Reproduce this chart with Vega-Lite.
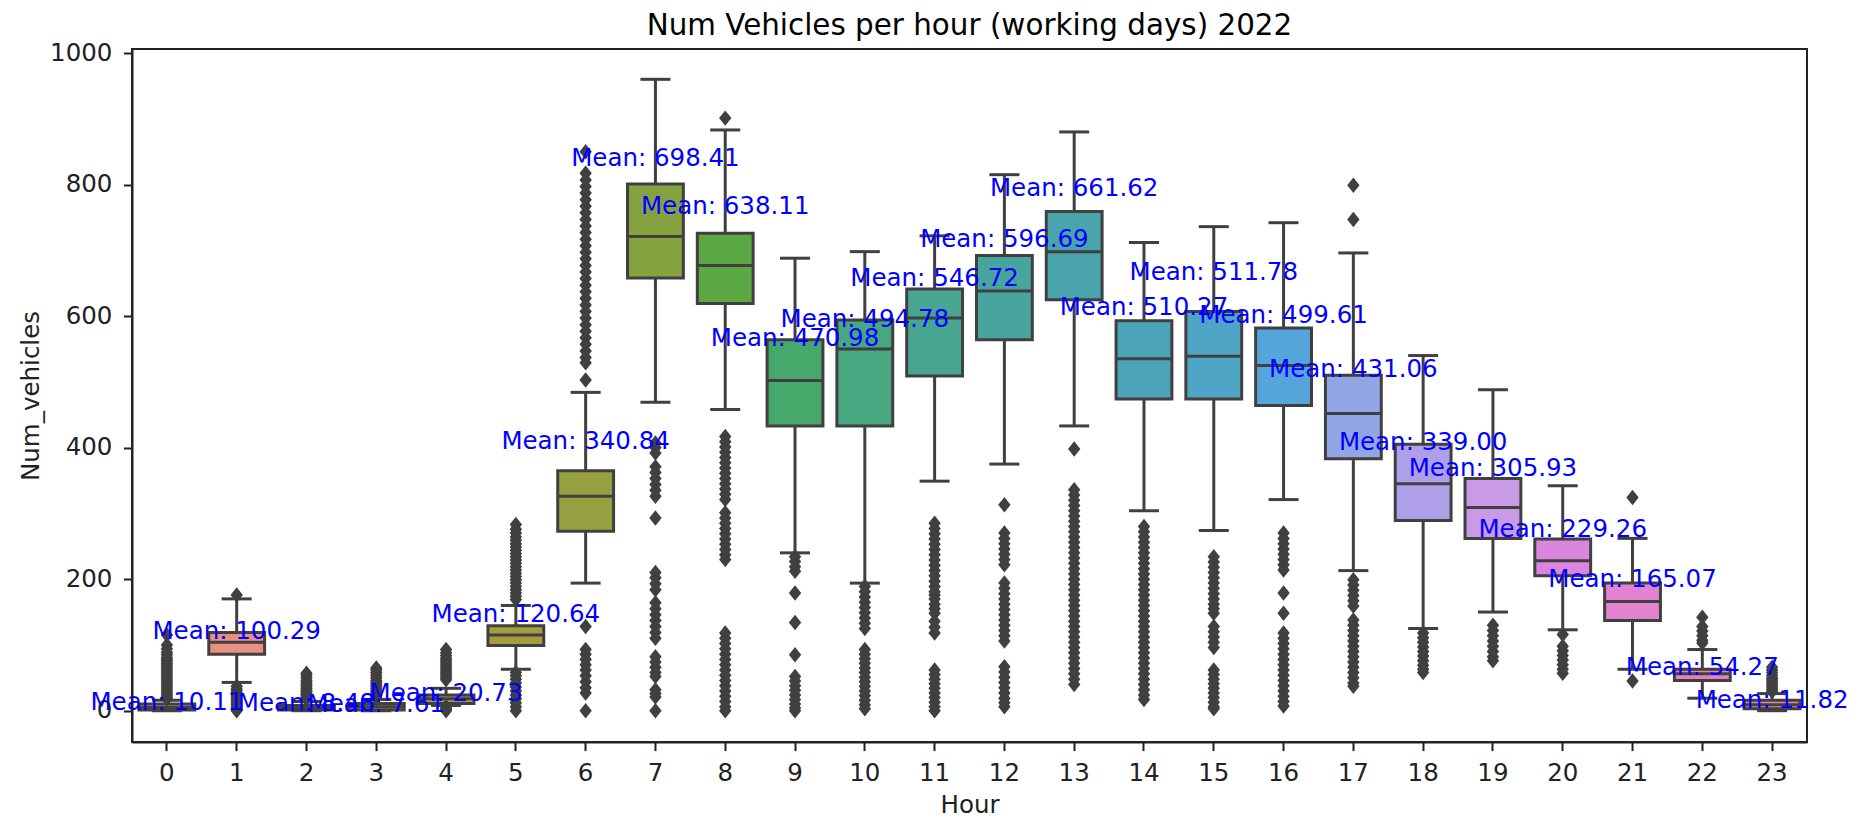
{
  "$schema": "https://vega.github.io/schema/vega-lite/v6.json",
  "width": 1675,
  "height": 693,
  "autosize": {"type": "none"},
  "padding": {"left": 132, "top": 49, "right": 61, "bottom": 77},
  "background": "white",
  "title": {"text": "Num Vehicles per hour (working days) 2022", "fontSize": 29.4, "font": "DejaVu Sans", "fontWeight": "normal", "color": "#000000", "anchor": "middle", "offset": -1.5},
  "config": {
    "view": {"stroke": "#222222", "strokeWidth": 2},
    "axis": {"domainColor": "#222222", "domainWidth": 2, "tickColor": "#222222", "tickWidth": 2, "tickSize": 8.6, "labelFontSize": 24.5, "labelFont": "DejaVu Sans", "labelColor": "#222222", "labelPadding": 8.6, "titleFontSize": 24.5, "titleFont": "DejaVu Sans", "titleFontWeight": "normal", "titleColor": "#222222", "grid": false}
  },
  "datasets": {
    "boxes": [
      {"hour": 0, "lower": 0, "q1": 1, "median": 5, "q3": 10, "upper": 16, "mean": 10.11},
      {"hour": 1, "lower": 43, "q1": 86, "median": 104, "q3": 119, "upper": 170, "mean": 100.29},
      {"hour": 2, "lower": 0, "q1": 1, "median": 4, "q3": 8, "upper": 14, "mean": 8.48},
      {"hour": 3, "lower": 0, "q1": 1, "median": 6, "q3": 11, "upper": 17, "mean": 7.61},
      {"hour": 4, "lower": 8, "q1": 11, "median": 18, "q3": 24, "upper": 34, "mean": 20.73},
      {"hour": 5, "lower": 63, "q1": 99, "median": 115, "q3": 129, "upper": 160, "mean": 120.64},
      {"hour": 6, "lower": 194, "q1": 273, "median": 326, "q3": 365, "upper": 484, "mean": 340.84},
      {"hour": 7, "lower": 469, "q1": 658, "median": 721, "q3": 801, "upper": 960, "mean": 698.41},
      {"hour": 8, "lower": 458, "q1": 619, "median": 677, "q3": 726, "upper": 883, "mean": 638.11},
      {"hour": 9, "lower": 240, "q1": 433, "median": 502, "q3": 564, "upper": 688, "mean": 470.98},
      {"hour": 10, "lower": 194, "q1": 433, "median": 550, "q3": 594, "upper": 698, "mean": 494.78},
      {"hour": 11, "lower": 349, "q1": 509, "median": 597, "q3": 641, "upper": 722, "mean": 546.72},
      {"hour": 12, "lower": 375, "q1": 564, "median": 638, "q3": 692, "upper": 815, "mean": 596.69},
      {"hour": 13, "lower": 433, "q1": 625, "median": 698, "q3": 759, "upper": 880, "mean": 661.62},
      {"hour": 14, "lower": 304, "q1": 474, "median": 535, "q3": 593, "upper": 712, "mean": 510.27},
      {"hour": 15, "lower": 274, "q1": 474, "median": 539, "q3": 607, "upper": 736, "mean": 511.78},
      {"hour": 16, "lower": 321, "q1": 464, "median": 525, "q3": 582, "upper": 742, "mean": 499.61},
      {"hour": 17, "lower": 213, "q1": 383, "median": 452, "q3": 510, "upper": 696, "mean": 431.06},
      {"hour": 18, "lower": 125, "q1": 289, "median": 345, "q3": 405, "upper": 540, "mean": 339.00},
      {"hour": 19, "lower": 150, "q1": 262, "median": 309, "q3": 353, "upper": 488, "mean": 305.93},
      {"hour": 20, "lower": 123, "q1": 205, "median": 228, "q3": 261, "upper": 342, "mean": 229.26},
      {"hour": 21, "lower": 63, "q1": 137, "median": 166, "q3": 194, "upper": 262, "mean": 165.07},
      {"hour": 22, "lower": 19, "q1": 46, "median": 56, "q3": 63, "upper": 93, "mean": 54.27},
      {"hour": 23, "lower": 0, "q1": 3, "median": 9, "q3": 16, "upper": 26, "mean": 11.82}
    ],
    "outliers": [
      {"hour":0,"v":18},{"hour":0,"v":21},{"hour":0,"v":24},{"hour":0,"v":27},{"hour":0,"v":30},{"hour":0,"v":33},{"hour":0,"v":36},{"hour":0,"v":39},{"hour":0,"v":42},{"hour":0,"v":45},{"hour":0,"v":48},{"hour":0,"v":51},{"hour":0,"v":54},{"hour":0,"v":57},{"hour":0,"v":60},{"hour":0,"v":63},{"hour":0,"v":66},{"hour":0,"v":69},{"hour":0,"v":72},{"hour":0,"v":75},{"hour":0,"v":78},{"hour":0,"v":81},{"hour":0,"v":85},{"hour":0,"v":89},{"hour":0,"v":94},{"hour":0,"v":100},{"hour":0,"v":115},
      {"hour":1,"v":176},{"hour":1,"v":37},{"hour":1,"v":33},{"hour":1,"v":30},{"hour":1,"v":27},{"hour":1,"v":24},{"hour":1,"v":21},{"hour":1,"v":18},{"hour":1,"v":15},{"hour":1,"v":12},{"hour":1,"v":9},{"hour":1,"v":6},{"hour":1,"v":3},{"hour":1,"v":0},
      {"hour":2,"v":17},{"hour":2,"v":19},{"hour":2,"v":21},{"hour":2,"v":23},{"hour":2,"v":25},{"hour":2,"v":27},{"hour":2,"v":29},{"hour":2,"v":31},{"hour":2,"v":34},{"hour":2,"v":37},{"hour":2,"v":40},{"hour":2,"v":43},{"hour":2,"v":46},{"hour":2,"v":50},{"hour":2,"v":54},{"hour":2,"v":57},
      {"hour":3,"v":19},{"hour":3,"v":21},{"hour":3,"v":23},{"hour":3,"v":25},{"hour":3,"v":27},{"hour":3,"v":29},{"hour":3,"v":31},{"hour":3,"v":34},{"hour":3,"v":37},{"hour":3,"v":40},{"hour":3,"v":43},{"hour":3,"v":46},{"hour":3,"v":50},{"hour":3,"v":54},{"hour":3,"v":58},{"hour":3,"v":62},{"hour":3,"v":65},
      {"hour":4,"v":47},{"hour":4,"v":50},{"hour":4,"v":53},{"hour":4,"v":56},{"hour":4,"v":59},{"hour":4,"v":62},{"hour":4,"v":65},{"hour":4,"v":68},{"hour":4,"v":71},{"hour":4,"v":74},{"hour":4,"v":77},{"hour":4,"v":80},{"hour":4,"v":84},{"hour":4,"v":88},{"hour":4,"v":93},{"hour":4,"v":0},{"hour":4,"v":2},{"hour":4,"v":4},{"hour":4,"v":6},
      {"hour":5,"v":169},{"hour":5,"v":174},{"hour":5,"v":179},{"hour":5,"v":184},{"hour":5,"v":189},{"hour":5,"v":194},{"hour":5,"v":199},{"hour":5,"v":204},{"hour":5,"v":209},{"hour":5,"v":214},{"hour":5,"v":219},{"hour":5,"v":224},{"hour":5,"v":229},{"hour":5,"v":234},{"hour":5,"v":239},{"hour":5,"v":244},{"hour":5,"v":249},{"hour":5,"v":254},{"hour":5,"v":259},{"hour":5,"v":264},{"hour":5,"v":270},{"hour":5,"v":276},{"hour":5,"v":283},{"hour":5,"v":0},{"hour":5,"v":6},{"hour":5,"v":12},{"hour":5,"v":18},{"hour":5,"v":24},{"hour":5,"v":30},{"hour":5,"v":36},{"hour":5,"v":42},{"hour":5,"v":48},{"hour":5,"v":53},{"hour":5,"v":58},
      {"hour":6,"v":850},{"hour":6,"v":817},{"hour":6,"v":807},{"hour":6,"v":797},{"hour":6,"v":787},{"hour":6,"v":777},{"hour":6,"v":767},{"hour":6,"v":757},{"hour":6,"v":747},{"hour":6,"v":737},{"hour":6,"v":727},{"hour":6,"v":717},{"hour":6,"v":707},{"hour":6,"v":697},{"hour":6,"v":687},{"hour":6,"v":677},{"hour":6,"v":667},{"hour":6,"v":657},{"hour":6,"v":647},{"hour":6,"v":637},{"hour":6,"v":627},{"hour":6,"v":617},{"hour":6,"v":607},{"hour":6,"v":597},{"hour":6,"v":587},{"hour":6,"v":577},{"hour":6,"v":567},{"hour":6,"v":557},{"hour":6,"v":547},{"hour":6,"v":537},{"hour":6,"v":529},{"hour":6,"v":503},{"hour":6,"v":128},{"hour":6,"v":93},{"hour":6,"v":86},{"hour":6,"v":78},{"hour":6,"v":70},{"hour":6,"v":62},{"hour":6,"v":53},{"hour":6,"v":44},{"hour":6,"v":35},{"hour":6,"v":27},{"hour":6,"v":0},
      {"hour":7,"v":407},{"hour":7,"v":400},{"hour":7,"v":392},{"hour":7,"v":371},{"hour":7,"v":362},{"hour":7,"v":353},{"hour":7,"v":344},{"hour":7,"v":335},{"hour":7,"v":326},{"hour":7,"v":293},{"hour":7,"v":210},{"hour":7,"v":202},{"hour":7,"v":193},{"hour":7,"v":184},{"hour":7,"v":164},{"hour":7,"v":155},{"hour":7,"v":146},{"hour":7,"v":137},{"hour":7,"v":128},{"hour":7,"v":119},{"hour":7,"v":110},{"hour":7,"v":82},{"hour":7,"v":74},{"hour":7,"v":66},{"hour":7,"v":58},{"hour":7,"v":52},{"hour":7,"v":32},{"hour":7,"v":26},{"hour":7,"v":21},{"hour":7,"v":0},
      {"hour":8,"v":901},{"hour":8,"v":417},{"hour":8,"v":409},{"hour":8,"v":401},{"hour":8,"v":393},{"hour":8,"v":385},{"hour":8,"v":377},{"hour":8,"v":369},{"hour":8,"v":361},{"hour":8,"v":353},{"hour":8,"v":345},{"hour":8,"v":337},{"hour":8,"v":329},{"hour":8,"v":321},{"hour":8,"v":301},{"hour":8,"v":293},{"hour":8,"v":285},{"hour":8,"v":277},{"hour":8,"v":269},{"hour":8,"v":261},{"hour":8,"v":253},{"hour":8,"v":245},{"hour":8,"v":237},{"hour":8,"v":230},{"hour":8,"v":118},{"hour":8,"v":110},{"hour":8,"v":102},{"hour":8,"v":94},{"hour":8,"v":86},{"hour":8,"v":78},{"hour":8,"v":70},{"hour":8,"v":62},{"hour":8,"v":54},{"hour":8,"v":46},{"hour":8,"v":38},{"hour":8,"v":30},{"hour":8,"v":22},{"hour":8,"v":14},{"hour":8,"v":6},{"hour":8,"v":0},
      {"hour":9,"v":234},{"hour":9,"v":227},{"hour":9,"v":219},{"hour":9,"v":212},{"hour":9,"v":179},{"hour":9,"v":134},{"hour":9,"v":85},{"hour":9,"v":52},{"hour":9,"v":45},{"hour":9,"v":38},{"hour":9,"v":31},{"hour":9,"v":24},{"hour":9,"v":17},{"hour":9,"v":10},{"hour":9,"v":4},{"hour":9,"v":0},
      {"hour":10,"v":189},{"hour":10,"v":181},{"hour":10,"v":173},{"hour":10,"v":165},{"hour":10,"v":157},{"hour":10,"v":149},{"hour":10,"v":141},{"hour":10,"v":133},{"hour":10,"v":125},{"hour":10,"v":93},{"hour":10,"v":86},{"hour":10,"v":79},{"hour":10,"v":72},{"hour":10,"v":65},{"hour":10,"v":58},{"hour":10,"v":51},{"hour":10,"v":44},{"hour":10,"v":37},{"hour":10,"v":30},{"hour":10,"v":23},{"hour":10,"v":16},{"hour":10,"v":9},{"hour":10,"v":3},
      {"hour":11,"v":285},{"hour":11,"v":277},{"hour":11,"v":269},{"hour":11,"v":261},{"hour":11,"v":253},{"hour":11,"v":245},{"hour":11,"v":237},{"hour":11,"v":229},{"hour":11,"v":221},{"hour":11,"v":213},{"hour":11,"v":205},{"hour":11,"v":197},{"hour":11,"v":189},{"hour":11,"v":181},{"hour":11,"v":176},{"hour":11,"v":170},{"hour":11,"v":162},{"hour":11,"v":155},{"hour":11,"v":148},{"hour":11,"v":136},{"hour":11,"v":127},{"hour":11,"v":118},{"hour":11,"v":62},{"hour":11,"v":55},{"hour":11,"v":48},{"hour":11,"v":41},{"hour":11,"v":34},{"hour":11,"v":27},{"hour":11,"v":20},{"hour":11,"v":13},{"hour":11,"v":6},{"hour":11,"v":0},
      {"hour":12,"v":313},{"hour":12,"v":270},{"hour":12,"v":262},{"hour":12,"v":254},{"hour":12,"v":246},{"hour":12,"v":238},{"hour":12,"v":230},{"hour":12,"v":222},{"hour":12,"v":194},{"hour":12,"v":186},{"hour":12,"v":178},{"hour":12,"v":170},{"hour":12,"v":162},{"hour":12,"v":154},{"hour":12,"v":146},{"hour":12,"v":138},{"hour":12,"v":130},{"hour":12,"v":122},{"hour":12,"v":114},{"hour":12,"v":106},{"hour":12,"v":67},{"hour":12,"v":59},{"hour":12,"v":51},{"hour":12,"v":43},{"hour":12,"v":35},{"hour":12,"v":27},{"hour":12,"v":19},{"hour":12,"v":12},{"hour":12,"v":6},
      {"hour":13,"v":398},{"hour":13,"v":336},{"hour":13,"v":328},{"hour":13,"v":320},{"hour":13,"v":312},{"hour":13,"v":304},{"hour":13,"v":296},{"hour":13,"v":288},{"hour":13,"v":280},{"hour":13,"v":272},{"hour":13,"v":264},{"hour":13,"v":256},{"hour":13,"v":248},{"hour":13,"v":240},{"hour":13,"v":232},{"hour":13,"v":224},{"hour":13,"v":216},{"hour":13,"v":208},{"hour":13,"v":200},{"hour":13,"v":192},{"hour":13,"v":184},{"hour":13,"v":176},{"hour":13,"v":168},{"hour":13,"v":160},{"hour":13,"v":152},{"hour":13,"v":144},{"hour":13,"v":136},{"hour":13,"v":128},{"hour":13,"v":120},{"hour":13,"v":112},{"hour":13,"v":104},{"hour":13,"v":96},{"hour":13,"v":88},{"hour":13,"v":80},{"hour":13,"v":72},{"hour":13,"v":64},{"hour":13,"v":56},{"hour":13,"v":48},{"hour":13,"v":40},
      {"hour":14,"v":280},{"hour":14,"v":272},{"hour":14,"v":264},{"hour":14,"v":256},{"hour":14,"v":248},{"hour":14,"v":240},{"hour":14,"v":232},{"hour":14,"v":224},{"hour":14,"v":216},{"hour":14,"v":208},{"hour":14,"v":200},{"hour":14,"v":192},{"hour":14,"v":184},{"hour":14,"v":176},{"hour":14,"v":168},{"hour":14,"v":160},{"hour":14,"v":152},{"hour":14,"v":144},{"hour":14,"v":136},{"hour":14,"v":128},{"hour":14,"v":120},{"hour":14,"v":112},{"hour":14,"v":104},{"hour":14,"v":96},{"hour":14,"v":88},{"hour":14,"v":80},{"hour":14,"v":72},{"hour":14,"v":64},{"hour":14,"v":56},{"hour":14,"v":48},{"hour":14,"v":40},{"hour":14,"v":32},{"hour":14,"v":24},{"hour":14,"v":17},
      {"hour":15,"v":234},{"hour":15,"v":226},{"hour":15,"v":218},{"hour":15,"v":210},{"hour":15,"v":202},{"hour":15,"v":194},{"hour":15,"v":186},{"hour":15,"v":178},{"hour":15,"v":170},{"hour":15,"v":162},{"hour":15,"v":155},{"hour":15,"v":148},{"hour":15,"v":128},{"hour":15,"v":120},{"hour":15,"v":112},{"hour":15,"v":104},{"hour":15,"v":96},{"hour":15,"v":62},{"hour":15,"v":55},{"hour":15,"v":48},{"hour":15,"v":41},{"hour":15,"v":34},{"hour":15,"v":27},{"hour":15,"v":20},{"hour":15,"v":13},{"hour":15,"v":6},{"hour":15,"v":3},
      {"hour":16,"v":270},{"hour":16,"v":262},{"hour":16,"v":254},{"hour":16,"v":246},{"hour":16,"v":238},{"hour":16,"v":230},{"hour":16,"v":222},{"hour":16,"v":214},{"hour":16,"v":179},{"hour":16,"v":148},{"hour":16,"v":118},{"hour":16,"v":110},{"hour":16,"v":102},{"hour":16,"v":94},{"hour":16,"v":86},{"hour":16,"v":78},{"hour":16,"v":70},{"hour":16,"v":62},{"hour":16,"v":54},{"hour":16,"v":46},{"hour":16,"v":38},{"hour":16,"v":30},{"hour":16,"v":22},{"hour":16,"v":14},{"hour":16,"v":7},
      {"hour":17,"v":799},{"hour":17,"v":747},{"hour":17,"v":199},{"hour":17,"v":191},{"hour":17,"v":183},{"hour":17,"v":175},{"hour":17,"v":167},{"hour":17,"v":159},{"hour":17,"v":138},{"hour":17,"v":130},{"hour":17,"v":122},{"hour":17,"v":114},{"hour":17,"v":106},{"hour":17,"v":98},{"hour":17,"v":90},{"hour":17,"v":82},{"hour":17,"v":74},{"hour":17,"v":66},{"hour":17,"v":58},{"hour":17,"v":50},{"hour":17,"v":42},{"hour":17,"v":37},
      {"hour":18,"v":118},{"hour":18,"v":111},{"hour":18,"v":104},{"hour":18,"v":97},{"hour":18,"v":90},{"hour":18,"v":83},{"hour":18,"v":76},{"hour":18,"v":69},{"hour":18,"v":63},{"hour":18,"v":58},
      {"hour":19,"v":130},{"hour":19,"v":122},{"hour":19,"v":114},{"hour":19,"v":106},{"hour":19,"v":98},{"hour":19,"v":90},{"hour":19,"v":82},{"hour":19,"v":76},
      {"hour":20,"v":116},{"hour":20,"v":98},{"hour":20,"v":91},{"hour":20,"v":84},{"hour":20,"v":77},{"hour":20,"v":70},{"hour":20,"v":63},{"hour":20,"v":57},
      {"hour":21,"v":324},{"hour":21,"v":45},
      {"hour":22,"v":142},{"hour":22,"v":128},{"hour":22,"v":121},{"hour":22,"v":114},{"hour":22,"v":107},{"hour":22,"v":103},
      {"hour":23,"v":29},{"hour":23,"v":32},{"hour":23,"v":35},{"hour":23,"v":38},{"hour":23,"v":41},{"hour":23,"v":44},{"hour":23,"v":47},{"hour":23,"v":50},{"hour":23,"v":54},{"hour":23,"v":58},{"hour":23,"v":62},{"hour":23,"v":66}
    ]
  },
  "encoding": {
    "x": {"field": "hour", "type": "ordinal", "title": "Hour",
      "scale": {"domain": [0,1,2,3,4,5,6,7,8,9,10,11,12,13,14,15,16,17,18,19,20,21,22,23], "paddingInner": 0, "paddingOuter": 0},
      "axis": {"labelAngle": 0, "labelPadding": 10.6, "titlePadding": 9}}
  },
  "layer": [
    {
      "data": {"name": "boxes"},
      "mark": {"type": "rule", "color": "#404040", "strokeWidth": 3},
      "encoding": {
        "y": {"field": "lower", "type": "quantitative", "title": "Num_vehicles",
          "scale": {"domain": [-47.6, 1006.1], "nice": false, "zero": false},
          "axis": {"values": [0, 200, 400, 600, 800, 1000], "format": "d", "labelPadding": 11.5, "titlePadding": 6.5}},
        "y2": {"field": "upper"}
      }
    },
    {
      "data": {"name": "boxes"},
      "mark": {"type": "bar", "width": {"band": 0.8}, "stroke": "#404040", "strokeWidth": 3},
      "encoding": {
        "y": {"field": "q1", "type": "quantitative"},
        "y2": {"field": "q3"},
        "color": {"field": "hour", "type": "ordinal", "legend": null,
          "scale": {"domain": [0,1,2,3,4,5,6,7,8,9,10,11,12,13,14,15,16,17,18,19,20,21,22,23],
            "range": ["#e68294", "#e6907f", "#d08d63", "#c0904a", "#ad9745", "#a49c3f", "#97a040", "#84a33f", "#5ba843", "#46a86b", "#46a781", "#47a590", "#47a59e", "#49a5ab", "#4ba4b8", "#4ea5c6", "#56a5da", "#92a6e6", "#ae9fe8", "#c99ae5", "#da86df", "#e382d0", "#e482b8", "#e585a8"]}}
      }
    },
    {
      "data": {"name": "boxes"},
      "mark": {"type": "tick", "color": "#404040", "size": 56, "thickness": 3, "opacity": 1},
      "encoding": {"y": {"field": "median", "type": "quantitative"}}
    },
    {
      "data": {"name": "boxes"},
      "mark": {"type": "tick", "color": "#404040", "size": 30, "thickness": 3, "opacity": 1},
      "encoding": {"y": {"field": "lower", "type": "quantitative"}}
    },
    {
      "data": {"name": "boxes"},
      "mark": {"type": "tick", "color": "#404040", "size": 30, "thickness": 3, "opacity": 1},
      "encoding": {"y": {"field": "upper", "type": "quantitative"}}
    },
    {
      "data": {"name": "outliers"},
      "mark": {"type": "point", "shape": "M0,-1L0.8,0L0,1L-0.8,0Z", "filled": true, "size": 240, "color": "#404040", "opacity": 1, "strokeWidth": 0},
      "encoding": {"y": {"field": "v", "type": "quantitative"}}
    },
    {
      "data": {"name": "boxes"},
      "transform": [
        {"calculate": "'Mean: ' + format(datum.mean, '.2f')", "as": "label"},
        {"calculate": "datum.hour === 15 ? datum.mean * 1.3 : datum.mean * 1.2", "as": "label_y"}
      ],
      "mark": {"type": "text", "font": "DejaVu Sans", "fontSize": 24.5, "color": "#0000ff", "align": "center", "baseline": "middle"},
      "encoding": {
        "y": {"field": "label_y", "type": "quantitative"},
        "text": {"field": "label"}
      }
    }
  ]
}
